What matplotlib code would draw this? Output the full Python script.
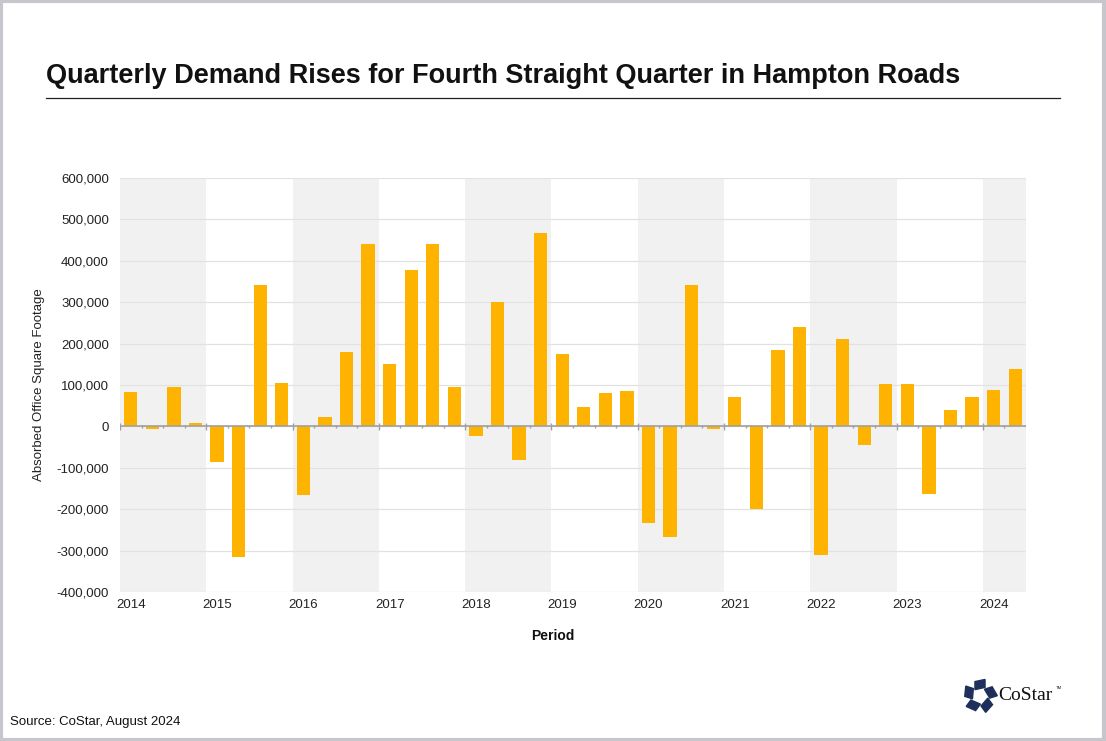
import numpy as np
import matplotlib
matplotlib.use("Agg")
import matplotlib.pyplot as plt
from matplotlib.lines import Line2D
from matplotlib.patches import Rectangle, Polygon
from matplotlib.ticker import FuncFormatter

plt.rcParams['font.family'] = ['Liberation Sans', 'DejaVu Sans']

# quarterly absorption, 2014 Q1 .. 2024 Q2
years = list(range(2014, 2025))
absorption = [
    83000, -6000, 95000, 8000,
    -85000, -315000, 342000, 106000,
    -165000, 23000, 180000, 441000,
    151000, 378000, 441000, 95000,
    -23000, 301000, -81000, 468000,
    175000, 47000, 81000, 85000,
    -233000, -267000, 342000, -6000,
    71000, -200000, 185000, 240000,
    -310000, 211000, -45000, 102000,
    102000, -163000, 40000, 71000,
    88000, 139000,
]
y_ticks = list(range(-400000, 600001, 100000))

BAR = "#FDB300"

fig = plt.figure(figsize=(11.06, 7.41), dpi=100)
ax = fig.add_axes([120 / 1106, 1 - 592 / 741, 906 / 1106, 414 / 741])

n = len(absorption)
x = np.arange(n)

# alternating year bands
for i, yr in enumerate(years):
    if i % 2 == 0:
        ax.axvspan(4 * i - 0.5, min(4 * i + 3.5, n - 0.5), color="#f1f1f1", lw=0, zorder=0)

ax.bar(x, absorption, width=0.62, color=BAR, zorder=3)

ax.set_xlim(-0.5, n - 0.5)
ax.set_ylim(-400000, 600000)
ax.set_yticks(y_ticks)
ax.yaxis.set_major_formatter(FuncFormatter(lambda v, p: f"{int(v):,}"))
ax.grid(axis="y", color="#e2e2e2", lw=0.9, zorder=1)
ax.set_axisbelow(True)
for s in ax.spines.values():
    s.set_visible(False)

ax.set_xticks([4 * i for i in range(len(years))])
ax.set_xticklabels([str(y) for y in years])
ax.tick_params(axis="both", length=0, labelsize=9.5, colors="#222222")
ax.tick_params(axis="y", pad=8)
ax.tick_params(axis="x", pad=5)

# zero line with quarter / year ticks
ax.axhline(0, color="#a0a0a0", lw=1.2, zorder=4)
bounds = np.arange(n + 1) - 0.5
major = bounds[::4]
minor = np.array([b for b in bounds if b not in major])
ax.vlines(major, -9000, 9000, color="#a0a0a0", lw=1, zorder=4)
ax.vlines(minor, -4000, 4000, color="#a0a0a0", lw=1, zorder=4)

ax.set_ylabel("Absorbed Office Square Footage", fontsize=9.5, color="#222222", labelpad=8)
fig.text(553 / 1106, 1 - 636 / 741, "Period", ha="center", va="center",
         fontsize=10, fontweight="bold", color="#111111")

# title and rule
fig.text(46 / 1106, 1 - 76 / 741, "Quarterly Demand Rises for Fourth Straight Quarter in Hampton Roads",
         ha="left", va="center", fontsize=19.5, fontweight="bold", color="#111111")
fig.add_artist(Line2D([46 / 1106, 1060 / 1106], [1 - 98 / 741, 1 - 98 / 741],
                      color="#222222", lw=0.9))

fig.text(10 / 1106, 1 - 722 / 741, "Source: CoStar, August 2024", ha="left", va="center",
         fontsize=9.5, color="#111111")

# CoStar logo
lax = fig.add_axes([962 / 1106, 1 - 714 / 741, 36 / 1106, 36 / 741])
lax.set_xlim(-1, 1)
lax.set_ylim(-1, 1)
lax.set_aspect("equal")
lax.axis("off")
navy = "#1f2f5c"
for k in range(5):
    a = np.pi / 2 + k * 2 * np.pi / 5
    c, s = np.cos(a), np.sin(a)
    pts = np.array([[-0.28, 0.35], [0.28, 0.48], [0.28, 0.92], [-0.28, 0.8]])
    rot = np.array([[c, -s], [s, c]]) @ np.array([[0, 1], [-1, 0]])
    lax.add_patch(Polygon(pts @ rot.T, closed=True, color=navy))
fig.text(998 / 1106, 1 - 695 / 741, "CoStar", ha="left", va="center",
         fontsize=14, family=["Liberation Serif", "DejaVu Serif"], color="#111111")
fig.text(1056 / 1106, 1 - 688 / 741, "TM", ha="left", va="center", fontsize=3, color="#111111")

# outer frame
fig.add_artist(Rectangle((0.001, 0.002), 0.997, 0.996, transform=fig.transFigure,
                         fill=False, ec="#c6c6cc", lw=3))

fig.savefig("out.png", dpi=100)
